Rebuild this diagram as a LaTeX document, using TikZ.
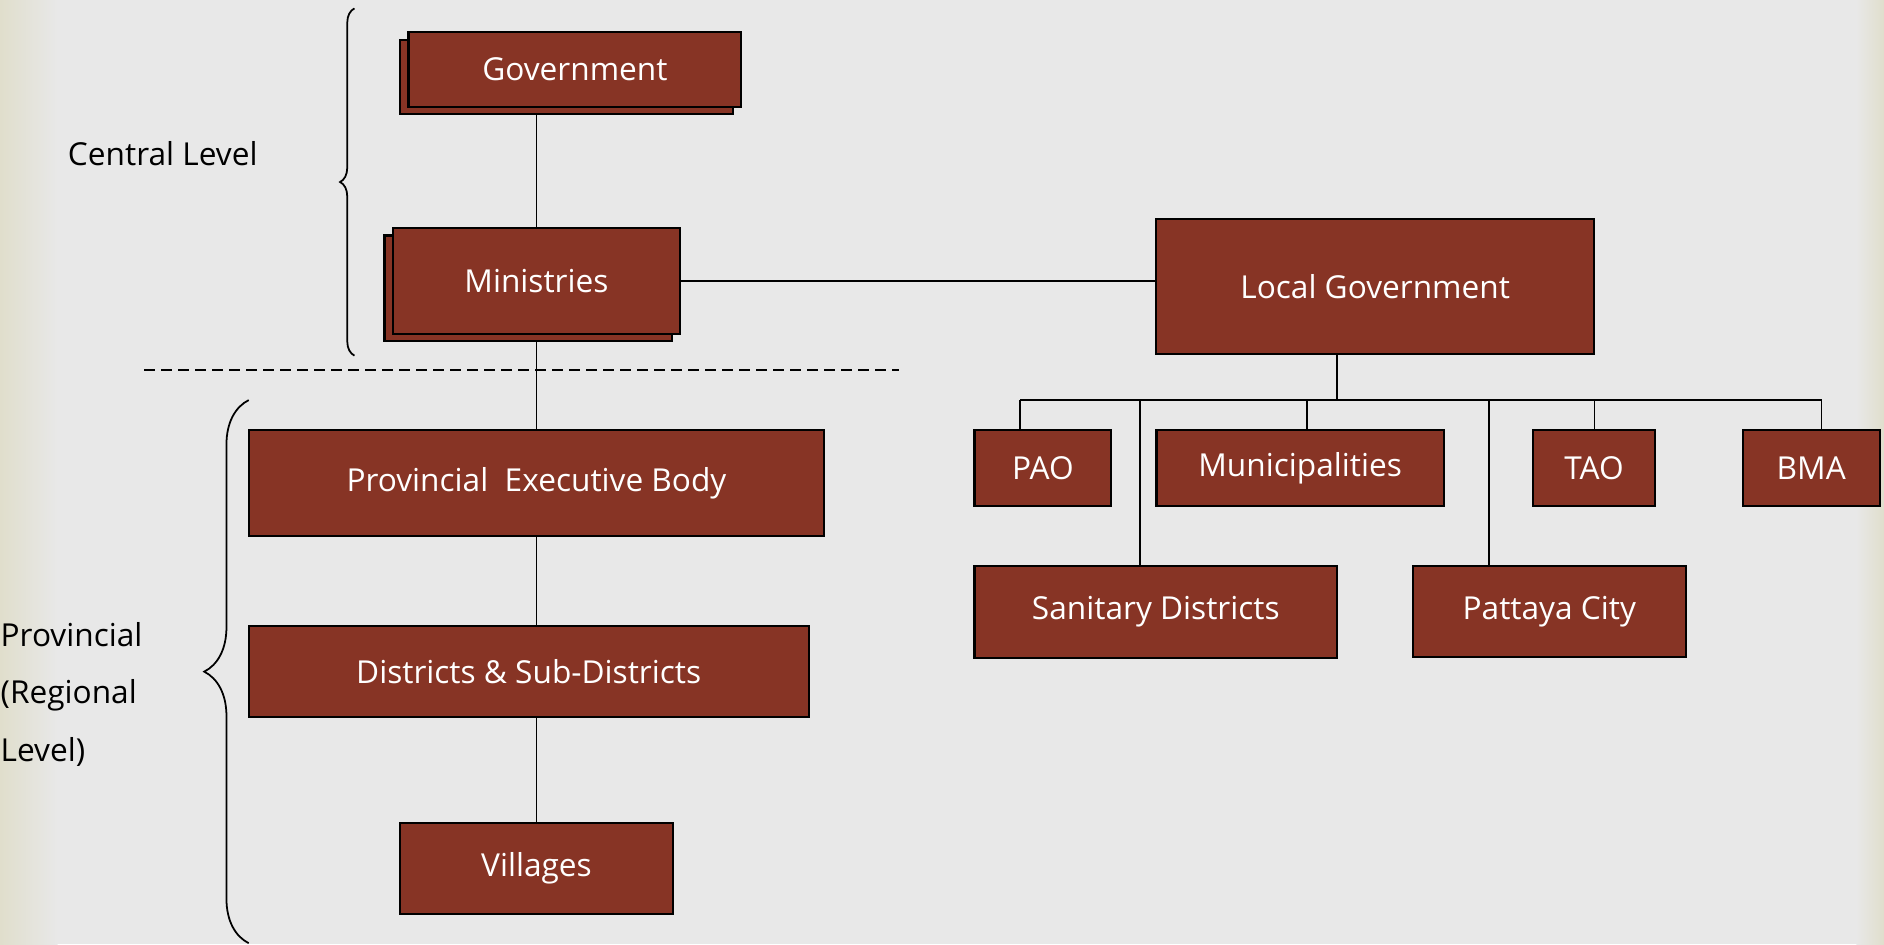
\documentclass[tikz,border=0pt]{standalone}
\usepackage{fontspec}
\setmainfont{Open Sans}
\usetikzlibrary{positioning}
\usetikzlibrary{shadows}
\usetikzlibrary{backgrounds}
\usetikzlibrary{decorations.pathreplacing}

\definecolor{boxred}{RGB}{135,52,37}
\definecolor{paper}{RGB}{232,232,232}
\definecolor{margin}{RGB}{224,222,204}

\newcommand{\px}{0.12015mm}

\tikzset{
  unit/.style 2 args={fill=boxred, draw=black, line width=0.6pt, text=white,
    font=\fontsize{9}{11}\selectfont, inner sep=0pt,
    minimum width=#1*\px, minimum height=#2*\px},
  stacked/.style={copy shadow={shadow xshift=-0.84mm, shadow yshift=-0.72mm}},
  link/.style={line width=0.5pt},
  level/.style={font=\fontsize{9}{16.4}\selectfont, inner sep=0pt, align=left},
}

\begin{document}
\begin{tikzpicture}[x=\px, y=-\px]
                \useasboundingbox (0,0) rectangle (1568,786);

                % central level
                \node(gov) [unit={277}{62}, stacked] at (478.5,58) {Government};
                \node(min) [unit={239}{88}, stacked] at (446.5,234) {Ministries};
                \node(central) [level, anchor=west] at (56,128) {Central Level};

                % provincial level
                \node(prov) [unit={479}{88}] at (446.5,402) {Provincial\ \ Executive Body};
                \node(dist) [unit={466}{76}] at (440,559) {Districts \& Sub-Districts};
                \node(vil) [unit={227}{76}] at (446.5,723) {Villages};
                \node(regional) [level, anchor=west] at (0,578) {Provincial\\(Regional\\Level)};

                % local government
                \node(loc) [unit={365}{113}] at (1144.5,238.5) {Local Government};
                \node(pao) [unit={114}{63}] at (868,389.5) {PAO};
                \node(muni) [unit={239}{63}, right=4.3mm of pao] {Municipalities};
                \node(tao) [unit={101}{63}, right=8.75mm of muni] {TAO};
                \node(bma) [unit={114}{63}, right=8.6mm of tao] {BMA};
                \node(san) [unit={302}{76}, below=5.85mm of pao.south west, anchor=north west] {Sanitary Districts};
                \node(pat) [unit={227}{76}] at (1289.5,509) {Pattaya City};

                \coordinate(hub) at (1113,333);
                \coordinate(sepl) at (120,308);
                \coordinate(sepr) at (748,308);

                \begin{scope}[on background layer]
                \fill[paper] (0,0) rectangle (1568,786);
                \shade[left color=margin, right color=paper] (0,0) rectangle (48,786);
                \shade[left color=paper, right color=margin] (1545,0) rectangle (1568,786);

                \draw[link] (min.north) -- (min.north |- gov.south);
                \draw[link] (min.south) -- (prov.north);
                \draw[link] (prov.south) -- (prov.south |- dist.north);
                \draw[link] (prov.south |- dist.south) -- (vil.north);
                \draw[link] (min.east) -- (min.east -| loc.west);

                \draw[link] (loc.south -| hub) -- (hub);
                \draw[link] (hub -| 849,0) -- (hub -| 1516,0);
                \foreach \n/\x in {pao/849, san/949, muni/1088, pat/1239, tao/1327, bma/1516}
                    \draw[link] (hub -| \x,0) -- (\n.north -| \x,0);
                \end{scope}

                \draw[link, dash pattern=on 1.1mm off 0.6mm] (sepl) -- (sepr);
                \draw[link, decorate, decoration={brace, amplitude=1.44mm}] (295,296) -- (295,7);
                \draw[link, decorate, decoration={brace, amplitude=4.45mm}] (207,785) -- (207,333);
            \end{tikzpicture}
\end{document}
